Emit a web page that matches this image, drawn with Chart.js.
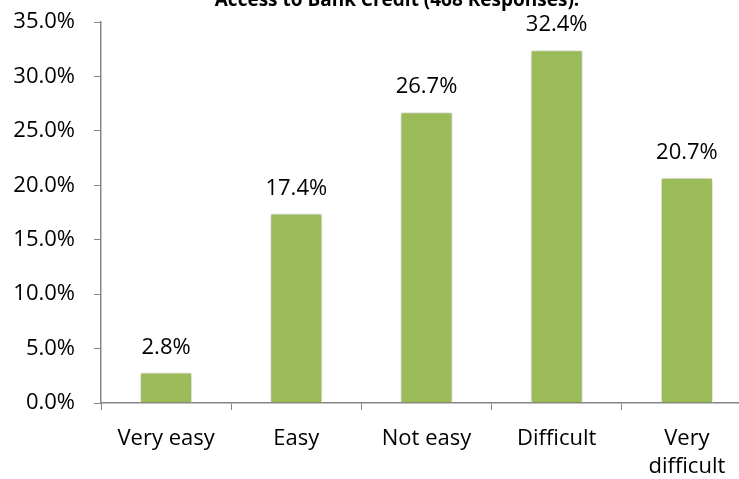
<!DOCTYPE html>
<html>
<head>
<meta charset="utf-8">
<script src="https://cdn.jsdelivr.net/npm/chart.js@4/dist/chart.umd.min.js"></script>
<style>
  html, body { margin: 0; padding: 0; background: #fff; overflow: hidden; }
  #wrap { width: 752px; height: 479px; }
</style>
</head>
<body>
<div id="wrap"><canvas id="creditChart"></canvas></div>
<script>
const categories = ['Very easy', 'Easy', 'Not easy', 'Difficult', ['Very', 'difficult']];
const shares = [2.8, 17.4, 26.7, 32.4, 20.7];
const yTicks = [0, 5, 10, 15, 20, 25, 30, 35];
const chartTitle = 'Access to Bank Credit (468 Responses).';

const FONT = '"Open Sans", Lato, sans-serif';

// bar labels + the clipped title at the top
const labelsPlugin = {
    id: 'barLabels',
    beforeDatasetsDraw(chart) {
        chart.ctx.save();
        chart.ctx.shadowColor = 'rgba(0,0,0,0.25)';
        chart.ctx.shadowBlur = 6;
    },
    afterDatasetsDraw(chart) {
        chart.ctx.restore();
        const ctx = chart.ctx;
        const meta = chart.getDatasetMeta(0);
        ctx.save();
        ctx.font = '22px ' + FONT;
        ctx.fillStyle = '#000';
        ctx.textAlign = 'center';
        ctx.textBaseline = 'alphabetic';
        meta.data.forEach((bar, i) => {
            ctx.fillText(shares[i].toFixed(1) + '%', bar.x, bar.y - 19);
        });
        ctx.font = 'bold 19px ' + FONT;
        ctx.fillText(chartTitle, 397, 6);
        ctx.restore();
    }
};

const ctx = document.getElementById('creditChart').getContext('2d');
const creditChart = new Chart(ctx, {
    type: 'bar',
    data: {
        labels: categories,
        datasets: [{
            data: shares,
            backgroundColor: '#9BBB59',
            borderColor: '#ffffff',
            borderWidth: 1,
            barPercentage: 0.4,
            categoryPercentage: 1.0
        }]
    },
    options: {
        responsive: true,
        maintainAspectRatio: false,
        animation: false,
        layout: { padding: { top: 22, right: 0, left: 0, bottom: 0 } },
        plugins: {
            legend: { display: false },
            tooltip: { enabled: false },
            title: { display: false }
        },
        scales: {
            y: {
                min: 0,
                max: 35,
                afterBuildTicks(scale) {
                    scale.ticks = yTicks.map(v => ({ value: v }));
                },
                afterFit(scale) {
                    scale.width = 101;
                    scale.paddingTop = 0;
                    scale.paddingBottom = 0;
                },
                border: { color: '#868686', width: 1.5 },
                grid: { drawOnChartArea: false, drawTicks: true, tickLength: 7, color: '#868686' },
                ticks: {
                    color: '#000',
                    font: { family: FONT, size: 22 },
                    padding: 19,
                    callback: v => v.toFixed(1) + '%'
                }
            },
            x: {
                afterFit(scale) { scale.height = 76; },
                border: { color: '#868686', width: 1.5 },
                grid: { drawOnChartArea: false, drawTicks: true, tickLength: 7, color: '#868686', offset: true },
                ticks: {
                    color: '#000',
                    font: { family: FONT, size: 22, lineHeight: 1.3 },
                    padding: 14,
                    maxRotation: 0
                }
            }
        }
    },
    plugins: [labelsPlugin]
});
</script>
</body>
</html>
